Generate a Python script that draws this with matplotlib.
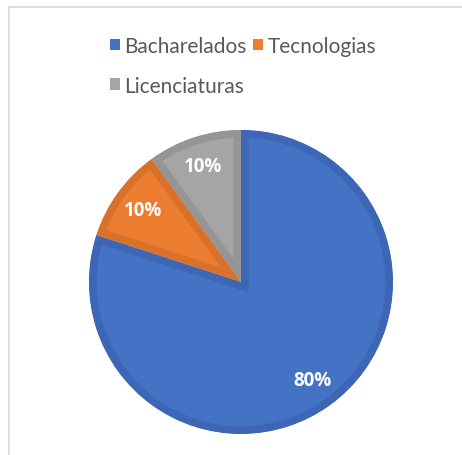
import matplotlib
matplotlib.use('Agg')
import matplotlib.pyplot as plt
from matplotlib.patches import Patch
from matplotlib.lines import Line2D

labels = ['Bacharelados', 'Tecnologias', 'Licenciaturas']
values = [80, 10, 10]
fill_colors = ['#4472C4', '#ED7D31', '#A5A5A5']
edge_colors = ['#3D67B6', '#DA712B', '#959595']

plt.rcParams['font.family'] = ['Lato', 'DejaVu Sans']

fig = plt.figure(figsize=(4.62, 4.56), dpi=100)
ax = fig.add_axes([0.1926, 0.046, 0.658, 0.667])

wedges, texts, autotexts = ax.pie(
    values, colors=fill_colors, startangle=90, counterclock=False,
    autopct='%1.0f%%', pctdistance=0.8,
    textprops={'color': 'white', 'fontsize': 13.5, 'fontweight': 'bold',
               'family': ['Open Sans', 'DejaVu Sans']})

# darker inner border like the office chart style
for w, ec in zip(wedges, edge_colors):
    w.set_edgecolor(ec)
    w.set_linewidth(11)
    w.set_joinstyle('miter')
    w.set_clip_on(True)
    w.set_clip_path(w)

ax.set_xlim(-1, 1)
ax.set_ylim(-1, 1)

# legend: reorder so the grid reads row-wise
order = [0, 2, 1]
handles = [Patch(facecolor=fill_colors[i], edgecolor='none') for i in order]
leg = fig.legend(handles, [labels[i] for i in order], ncol=2,
                 loc='upper left', bbox_to_anchor=(0.215, 0.942),
                 frameon=False, fontsize=15, labelcolor='#595959',
                 handlelength=0.5, handleheight=0.5, handletextpad=0.2,
                 columnspacing=0.3, labelspacing=0.95, borderpad=0)

# chart area frame (top and left edges visible)
fig.add_artist(Line2D([8.5 / 462, 8.5 / 462], [0, 1 - 7.5 / 456],
                      transform=fig.transFigure, color='#D9D9D9', lw=1.2))
fig.add_artist(Line2D([8.5 / 462, 1], [1 - 7.5 / 456, 1 - 7.5 / 456],
                      transform=fig.transFigure, color='#D9D9D9', lw=1.2))

fig.savefig('out.png', dpi=100)
